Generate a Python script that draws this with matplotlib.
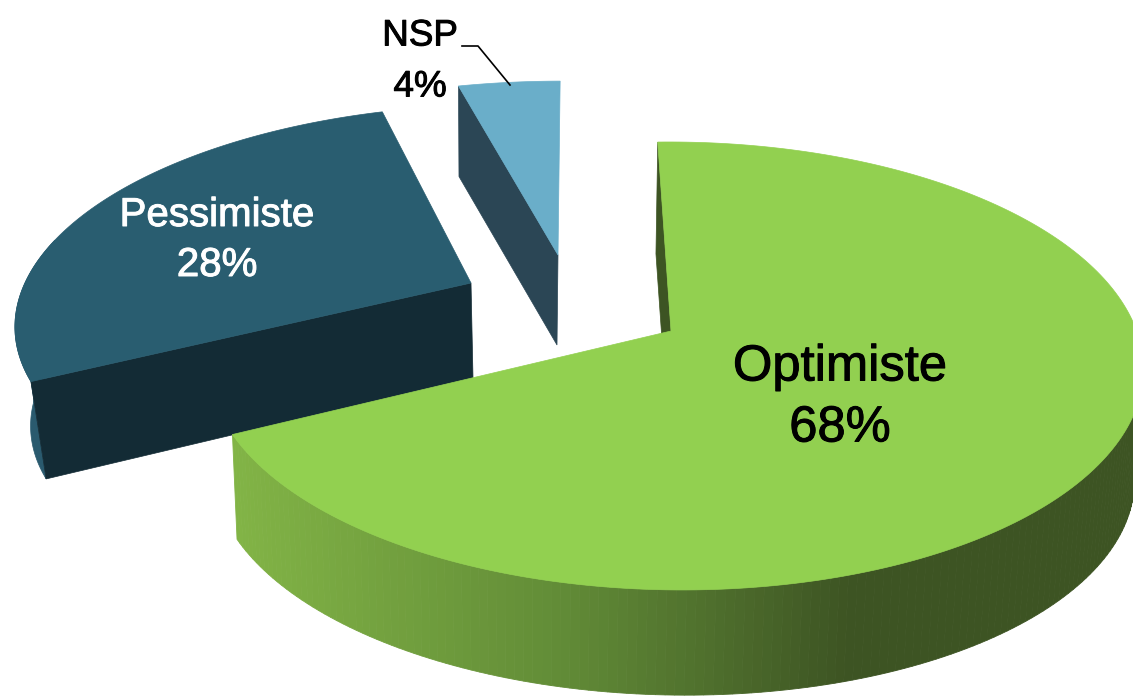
import numpy as np
import matplotlib
matplotlib.use("Agg")
import matplotlib.pyplot as plt
import matplotlib.patheffects as pe
from matplotlib.colors import to_rgb
from matplotlib.patches import Polygon

categories = ["Optimiste", "Pessimiste", "NSP"]
shares = [68, 28, 4]
percent_labels = ["68%", "28%", "4%"]

W, H = 1133, 697
plt.rcParams['font.family'] = ['Liberation Sans', 'DejaVu Sans']
fig = plt.figure(figsize=(W / 100, H / 100), dpi=100)
ax = fig.add_axes([0, 0, 1, 1])
ax.set_xlim(0, W)
ax.set_ylim(H, 0)
ax.axis("off")

# Projection of the tilted disc
RX, RY, P, Q = 462.0, 218.5, 0.156, -0.01
START = -1.9

styles = {
    "Optimiste": dict(apex=(671, 331), sx=1.0, sy=1.0, depth=109, ddx=-2, f=0.985, rot=0, shear=0.006, lshear=0.006,
                      top="#92d050", face="#3d5423"),
    "Pessimiste": dict(apex=(471, 283), sx=0.985, sy=0.94, depth=95, ddx=2, f=0.97, rot=3.3, shear=-0.025, lshear=-0.012,
                       top="#295d70", face="#132b35", rim="#2a5a6e"),
    "NSP": dict(apex=(558, 255), sx=1.02, sy=0.92, depth=90, ddx=-1, f=0.985, rot=2.2, shear=0, lshear=0.02,
                top="#6aaec9", face="#2b4655"),
}


def project(theta, st, lower=False):
    t = np.radians(theta + st["rot"])
    u, v = np.sin(t), np.cos(t)
    s = 1 / (1 + P * v + Q * u)
    x = RX * u * s * st["sx"]
    y = -RY * v * s * st["sy"] + st["shear"] * x
    ax0, ay0 = st["apex"]
    if lower:
        return (ax0 + st["ddx"] + st["f"] * x,
                ay0 + st["depth"] + st["f"] * y + st["lshear"] * x)
    return ax0 + x, ay0 + y


def side_colour(x):
    stops_x = [233, 560, 850]
    stops_c = [to_rgb("#82b446"), to_rgb("#628c37"), to_rgb("#3d5423")]
    return tuple(np.interp(x, stops_x, [c[i] for c in stops_c]) for i in range(3))


edges = np.cumsum([0] + shares) / sum(shares) * 360 + START

# Draw from back to front
for idx in [2, 1, 0]:
    name = categories[idx]
    st = styles[name]
    a0, a1 = edges[idx], edges[idx + 1]
    th = np.linspace(a0, a1, 240)
    tx, ty = project(th, st)
    bx, by = project(th, st, lower=True)
    ax0, ay0 = st["apex"]
    lx0, ly0 = ax0 + st["ddx"], ay0 + st["depth"]

    if name == "Optimiste":
        # cut face at the start angle
        ax.add_patch(Polygon([(tx[0], ty[0]), (ax0, ay0), (lx0, ly0), (bx[0], by[0])],
                             closed=True, fc=st["face"], ec=st["face"], lw=0.5, zorder=2))
        # outer wall, shaded along x
        for i in range(len(th) - 1):
            if th[i + 1] < 90:
                continue
            cx = 0.5 * (tx[i] + tx[i + 1])
            c = side_colour(cx)
            ax.add_patch(Polygon([(tx[i], ty[i]), (tx[i + 1], ty[i + 1]),
                                  (bx[i + 1], by[i + 1]), (bx[i], by[i])],
                                 closed=True, fc=c, ec=c, lw=0.6, zorder=3))
    else:
        if "rim" in st:
            m = th < a0 + 40
            ax.add_patch(Polygon(list(zip(tx[m], ty[m])) + list(zip(bx[m], by[m]))[::-1],
                                 closed=True, fc=st["rim"], ec=st["rim"], lw=0.5, zorder=2))
        # cut face at the start angle, seen from the front
        ax.add_patch(Polygon([(ax0, ay0), (tx[0], ty[0]), (bx[0], by[0]), (lx0, ly0)],
                             closed=True, fc=st["face"], ec=st["face"], lw=0.5, zorder=3))
    ax.add_patch(Polygon([(ax0, ay0)] + list(zip(tx, ty)), closed=True,
                         fc=st["top"], ec=st["top"], lw=0.5, zorder=4))

label_pos = {"Optimiste": (840, 367, 428, 36.5, "black"),
             "Pessimiste": (217, 215, 265, 29, "white"),
             "NSP": (420, 36, 87, 26.5, "black")}
for name, pct in zip(categories, percent_labels):
    x, y1, y2, size, col = label_pos[name]
    for y, s in ((y1, name), (y2, pct)):
        t = ax.text(x, y, s, ha="center", va="center", fontsize=size, color=col, zorder=6)
        t.set_path_effects([pe.withStroke(linewidth=0.7, foreground=col)])

ax.plot([462, 478, 510], [46, 46, 85], color="black", lw=1.2, zorder=5)

fig.savefig("out.png", dpi=100, facecolor="white")
